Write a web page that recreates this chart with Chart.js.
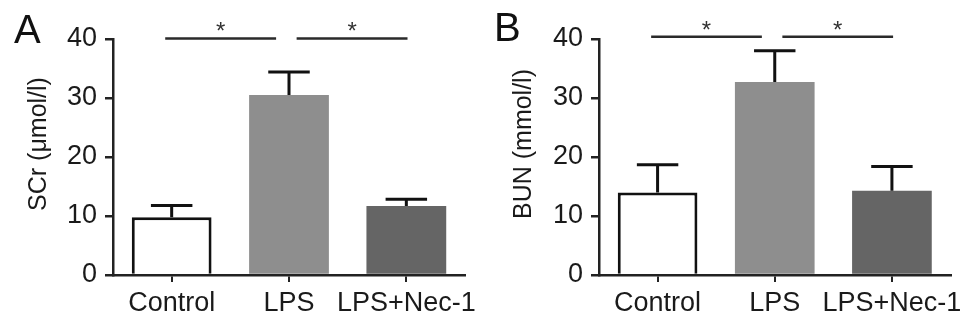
<!DOCTYPE html>
<html>
<head>
<meta charset="utf-8">
<script src="https://cdn.jsdelivr.net/npm/chart.js@4.4.1/dist/chart.umd.min.js"></script>
<style>
  html, body { margin: 0; padding: 0; background: #ffffff; }
  body { width: 969px; height: 326px; position: relative; overflow: hidden; }
  .panel { position: absolute; top: 0; width: 484px; height: 326px; }
  #pA { left: 0; }
  #pB { left: 485px; }
</style>
</head>
<body>
<div class="panel" id="pA"><canvas id="cA" width="484" height="326"></canvas></div>
<div class="panel" id="pB"><canvas id="cB" width="484" height="326"></canvas></div>
<script>
// ---- Data ----
const categories = ['Control', 'LPS', 'LPS+Nec-1'];
const scrMean = [9.8, 30.5, 11.7];
const scrErr = [2.0, 3.9, 1.15];
const bunMean = [14.0, 32.7, 14.3];
const bunErr = [4.7, 5.3, 4.1];
const yTicks = [0, 10, 20, 30, 40];
const sigPairs = [[0, 1], [1, 2]];
const sigLabels = ['*', '*'];
const scrSigLevel = 40.1;
const bunSigLevel = 40.4;
const scrTitle = 'SCr (μmol/l)';
const bunTitle = 'BUN (mmol/l)';

const FONT = "'Liberation Sans', Arial, Helvetica, sans-serif";
const TXT = '#1a1a1a';
const AX = '#222222';
const barFill = ['#ffffff', '#8e8e8e', '#656565'];
const barBorder = ['#111111', '#8e8e8e', '#656565'];
const barBorderW = [3, 0, 0];

const annot = {
  id: 'annot',
  afterDatasetsDraw(chart, args, o) {
    const { ctx } = chart;
    const x = chart.scales.x, y = chart.scales.y;
    const meta = chart.getDatasetMeta(0);
    const vals = chart.data.datasets[0].data;
    ctx.save();
    // error bars (upper only)
    ctx.strokeStyle = '#111111';
    ctx.lineWidth = 3;
    ctx.lineCap = 'butt';
    vals.forEach((v, i) => {
      const cx = x.getPixelForValue(i);
      const y0 = y.getPixelForValue(v);
      const y1 = y.getPixelForValue(v + o.errors[i]);
      const half = meta.data[i].width * 0.26;
      ctx.beginPath();
      ctx.moveTo(cx, y0);
      ctx.lineTo(cx, y1);
      ctx.moveTo(cx - half, y1);
      ctx.lineTo(cx + half, y1);
      ctx.stroke();
    });
    // significance lines
    const cw = x.getPixelForValue(1) - x.getPixelForValue(0);
    const ly = y.getPixelForValue(o.sigLevel);
    ctx.strokeStyle = '#2a2a2a';
    ctx.lineWidth = 2.5;
    o.pairs.forEach((p, k) => {
      const xa = x.getPixelForValue(p[0]) + (k === 0 ? -0.055 : 0.065) * cw;
      const xb = x.getPixelForValue(p[1]) + (k === 0 ? -0.11 : 0.01) * cw;
      ctx.beginPath();
      ctx.moveTo(xa, ly);
      ctx.lineTo(xb, ly);
      ctx.stroke();
      ctx.fillStyle = '#333333';
      ctx.font = '24px ' + FONT;
      ctx.textAlign = 'center';
      ctx.textBaseline = 'alphabetic';
      ctx.fillText(o.labels[k], (xa + xb) / 2, ly - 13 + 0.58 * 24);
    });
    ctx.restore();
  },
  afterDraw(chart, args, o) {
    const { ctx } = chart;
    const y = chart.scales.y;
    ctx.save();
    // panel letter
    ctx.fillStyle = '#111111';
    ctx.font = '40px ' + FONT;
    ctx.textAlign = 'left';
    ctx.textBaseline = 'alphabetic';
    ctx.fillText(o.letter, o.lx, o.ly);
    // y-axis title (rotated)
    ctx.translate(39, (y.top + y.bottom) / 2 - 13);
    ctx.rotate(-Math.PI / 2);
    ctx.fillStyle = TXT;
    ctx.font = '25px ' + FONT;
    ctx.textAlign = 'center';
    ctx.textBaseline = 'middle';
    ctx.fillText(o.title, 0, 0);
    ctx.restore();
  }
};

function makeChart(id, vals, errs, title, sigLevel, letter, lx, ly, yWidth, padRight) {
  return new Chart(document.getElementById(id), {
    type: 'bar',
    data: {
      labels: categories,
      datasets: [{
        data: vals,
        backgroundColor: barFill,
        borderColor: barBorder,
        borderWidth: barBorderW,
        borderSkipped: 'bottom',
        categoryPercentage: 1.0,
        barPercentage: 0.68
      }]
    },
    options: {
      responsive: false,
      animation: false,
      devicePixelRatio: 1,
      layout: { padding: { top: 39, right: padRight, bottom: 0, left: 0 } },
      plugins: {
        legend: { display: false },
        tooltip: { enabled: false },
        annot: { errors: errs, pairs: sigPairs, labels: sigLabels, sigLevel: sigLevel, letter: letter, lx: lx, ly: ly, title: title }
      },
      scales: {
        x: {
          type: 'category',
          offset: true,
          grid: { display: true, offset: false, drawOnChartArea: false, drawTicks: true, tickLength: 7, color: AX, lineWidth: 2 },
          border: { display: true, color: AX, width: 2.5 },
          ticks: { color: TXT, font: { family: FONT, size: 27 }, padding: 5, maxRotation: 0, autoSkip: false },
          afterFit(s) { s.height = 51; }
        },
        y: {
          min: 0,
          max: 40,
          afterBuildTicks(s) { s.ticks = yTicks.map(v => ({ value: v })); },
          grid: { display: true, drawOnChartArea: false, drawTicks: true, tickLength: 8, color: AX, lineWidth: 2.5 },
          border: { display: true, color: AX, width: 2.5 },
          ticks: { color: TXT, font: { family: FONT, size: 27 }, padding: 8 },
          title: { display: false, text: title },
          afterFit(s) { s.width = yWidth; }
        }
      }
    },
    plugins: [annot]
  });
}

makeChart('cA', scrMean, scrErr, scrTitle, scrSigLevel, 'A', 14, 43, 113, 19);
makeChart('cB', bunMean, bunErr, bunTitle, bunSigLevel, 'B', 9, 41, 114, 16);
</script>
</body>
</html>
